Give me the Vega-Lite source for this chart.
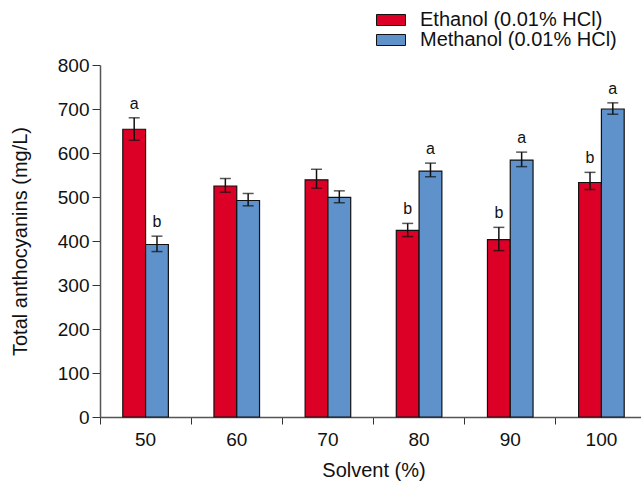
{
  "$schema": "https://vega.github.io/schema/vega-lite/v6.json",
  "width": 541,
  "height": 352,
  "autosize": {"type": "none"},
  "padding": {"left": 100, "top": 65, "right": 0, "bottom": 67},
  "background": "white",
  "config": {
    "view": {"stroke": null},
    "font": "Liberation Sans",
    "axis": {"grid": false, "domainColor": "#555", "tickColor": "#333", "labelColor": "#111", "titleColor": "#111", "labelFont": "Liberation Sans", "titleFont": "Liberation Sans", "titleFontWeight": "normal"}
  },
  "data": {
    "values": [
      {"solvent": "50", "group": "Ethanol (0.01% HCl)", "value": 654, "lo": 629, "hi": 680, "letter": "a"},
      {"solvent": "50", "group": "Methanol (0.01% HCl)", "value": 392, "lo": 376, "hi": 411, "letter": "b"},
      {"solvent": "60", "group": "Ethanol (0.01% HCl)", "value": 525, "lo": 511, "hi": 542, "letter": ""},
      {"solvent": "60", "group": "Methanol (0.01% HCl)", "value": 492, "lo": 480, "hi": 508, "letter": ""},
      {"solvent": "70", "group": "Ethanol (0.01% HCl)", "value": 539, "lo": 520, "hi": 563, "letter": ""},
      {"solvent": "70", "group": "Methanol (0.01% HCl)", "value": 499, "lo": 487, "hi": 514, "letter": ""},
      {"solvent": "80", "group": "Ethanol (0.01% HCl)", "value": 424, "lo": 410, "hi": 440, "letter": "b"},
      {"solvent": "80", "group": "Methanol (0.01% HCl)", "value": 559, "lo": 546, "hi": 577, "letter": "a"},
      {"solvent": "90", "group": "Ethanol (0.01% HCl)", "value": 403, "lo": 378, "hi": 431, "letter": "b"},
      {"solvent": "90", "group": "Methanol (0.01% HCl)", "value": 584, "lo": 569, "hi": 602, "letter": "a"},
      {"solvent": "100", "group": "Ethanol (0.01% HCl)", "value": 533, "lo": 517, "hi": 556, "letter": "b"},
      {"solvent": "100", "group": "Methanol (0.01% HCl)", "value": 700, "lo": 688, "hi": 714, "letter": "a"}
    ]
  },
  "encoding": {
    "x": {
      "field": "solvent", "type": "nominal", "sort": ["50", "60", "70", "80", "90", "100"],
      "scale": {"paddingInner": 0, "paddingOuter": 0, "range": [0, 547]},
      "axis": {"title": "Solvent (%)", "labelAngle": 0, "labelFontSize": 19, "titleFontSize": 20, "tickSize": 7, "tickWidth": 1, "bandPosition": 0, "labelPadding": 6, "domainWidth": 1.5, "titleY": 53, "titleBaseline": "middle"}
    },
    "xOffset": {"field": "group", "type": "nominal", "scale": {"paddingInner": 0, "paddingOuter": 1}}
  },
  "layer": [
    {
      "mark": {"type": "bar", "stroke": "#111", "strokeWidth": 1.2},
      "encoding": {
        "y": {
          "field": "value", "type": "quantitative",
          "scale": {"domain": [0, 800], "nice": false},
          "axis": {"title": "Total anthocyanins (mg/L)", "values": [0, 100, 200, 300, 400, 500, 600, 700, 800], "labelFontSize": 19, "titleFontSize": 20, "tickSize": 8, "labelPadding": 3, "domainWidth": 1.5, "titleX": -80, "titleY": 176, "titleAngle": -90, "titleAlign": "center", "titleBaseline": "middle"}
        },
        "color": {
          "field": "group", "type": "nominal",
          "scale": {"range": ["#DC0027", "#5F91CB"]},
          "legend": {
            "title": null, "orient": "none", "legendX": 281, "legendY": -55,
            "symbolType": "M-2,-0.76H2V0.76H-2Z", "symbolSize": 210, "symbolStrokeColor": "#111", "symbolStrokeWidth": 1,
            "labelFontSize": 20, "labelColor": "#111", "labelOffset": 19, "labelLimit": 0, "rowPadding": 0, "padding": 0
          }
        }
      }
    },
    {
      "mark": {"type": "rule", "color": "#111", "strokeWidth": 1.5},
      "encoding": {"y": {"field": "lo", "type": "quantitative"}, "y2": {"field": "hi"}}
    },
    {
      "mark": {"type": "tick", "color": "#111", "thickness": 1.5, "size": 11},
      "encoding": {"y": {"field": "lo", "type": "quantitative"}}
    },
    {
      "mark": {"type": "tick", "color": "#111", "thickness": 1.5, "size": 11},
      "encoding": {"y": {"field": "hi", "type": "quantitative"}}
    },
    {
      "mark": {"type": "text", "fontSize": 16, "dy": -14, "color": "#111"},
      "encoding": {"y": {"field": "hi", "type": "quantitative"}, "text": {"field": "letter"}}
    }
  ]
}
